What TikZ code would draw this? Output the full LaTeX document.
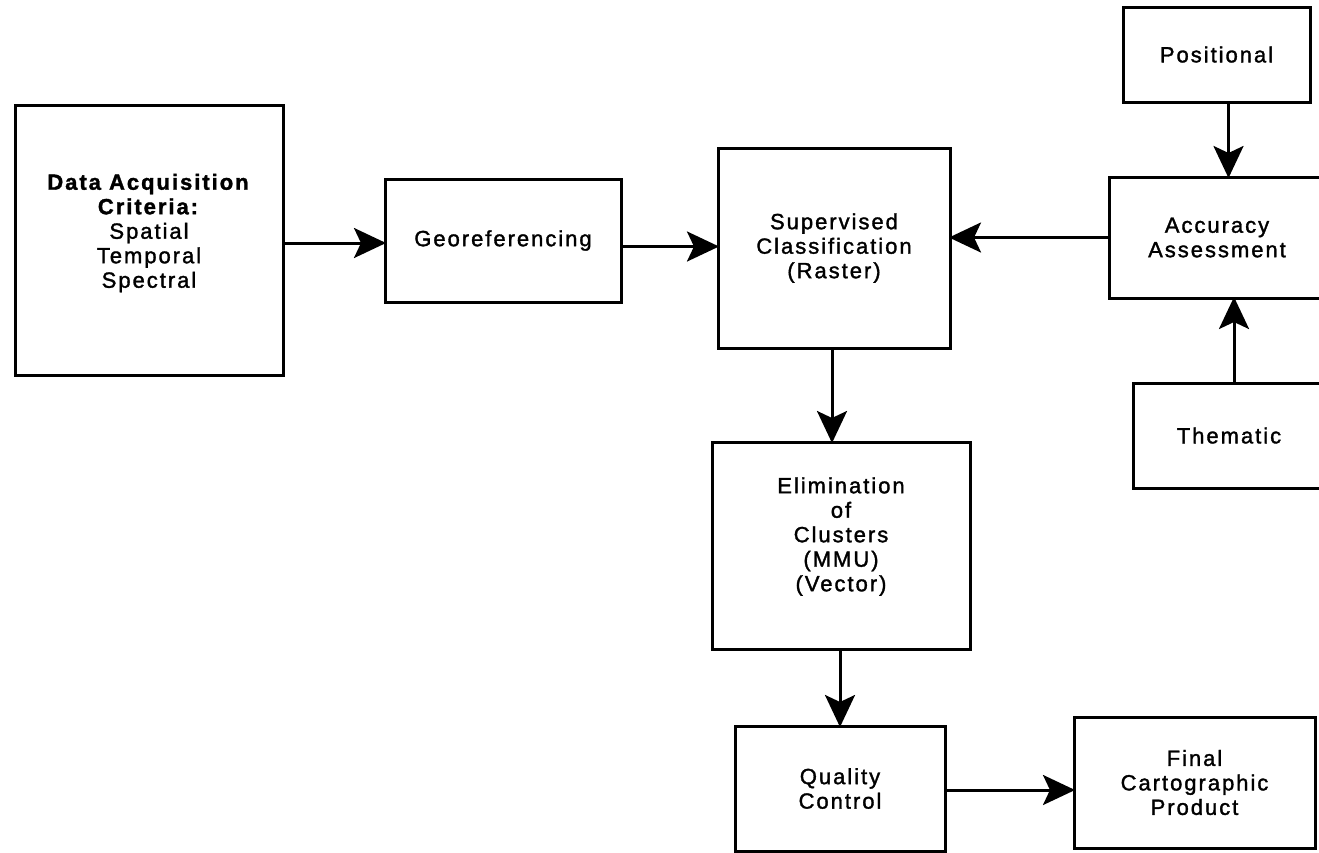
\documentclass[tikz,border=0pt]{standalone}
\usepackage{fontspec}
\setmainfont{Liberation Sans}[LetterSpace=9,FakeBold=1.5]
\usetikzlibrary{arrows.meta,calc}
\begin{document}
\begin{tikzpicture}[x=1pt,y=-1pt,
  box/.style={draw=black, line width=3pt, fill=none, inner sep=0pt, outer sep=0pt,
    align=center, font=\fontsize{22}{24.5}\selectfont, text=black},
  arr/.style={draw=black, line width=3pt,
    -{Stealth[length=32pt,width=30pt,inset=7pt]}, shorten >=-1pt}
]
\useasboundingbox[fill=white] (0,0) rectangle (1319,852);

\node[box, minimum width=268pt, minimum height=270pt] (data) at (149,240)
  {\textbf{Data Acquisition}\\\textbf{Criteria:}\\Spatial\\Temporal\\Spectral\\[-6pt]};
\node[box, minimum width=236pt, minimum height=123pt] (geo) at (503,240.5) {Georeferencing};
\node[box, minimum width=232pt, minimum height=200pt] (sup) at (834,248)
  {Supervised\\Classification\\(Raster)};
\node[box, minimum width=216pt, minimum height=121pt] (acc) at (1217,237.5)
  {Accuracy\\Assessment};
\node[box, minimum width=187pt, minimum height=95pt] (pos) at (1216.5,54.5) {Positional};
\node[box, minimum width=192pt, minimum height=105pt] (them) at (1229,435.5) {Thematic};
\node[box, minimum width=258pt, minimum height=207pt] (elim) at (841,545.5)
  {Elimination\\of\\Clusters\\(MMU)\\(Vector)\\[-2pt]};
\node[box, minimum width=210pt, minimum height=125pt] (qc) at (840,788.5)
  {Quality\\Control};
\node[box, minimum width=241pt, minimum height=131pt] (fin) at (1194.5,782.5)
  {Final\\Cartographic\\Product};

\draw[arr] ([yshift=-3pt]data.east) -- ([yshift=-3pt]data.east -| geo.west);
\draw[arr] ([yshift=-6pt]geo.east) -- ([yshift=-6pt]geo.east -| sup.west);
\draw[arr] (acc.west) -- (acc.west -| sup.east);
\draw[arr] ([xshift=12pt]pos.south) -- ([xshift=12pt]pos.south |- acc.north);
\draw[arr] ([xshift=5pt]them.north) -- ([xshift=5pt]them.north |- acc.south);
\draw[arr] ([xshift=-2pt]sup.south) -- ([xshift=-2pt]sup.south |- elim.north);
\draw[arr] ([xshift=-1pt]elim.south) -- ([xshift=-1pt]elim.south |- qc.north);
\draw[arr] ([yshift=-1.5pt]qc.east) -- ([yshift=-1.5pt]qc.east -| fin.west);
\end{tikzpicture}
\end{document}
